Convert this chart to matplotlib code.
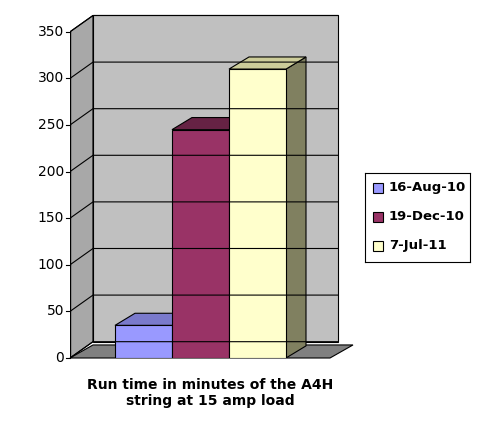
import matplotlib
matplotlib.use("Agg")
import matplotlib.pyplot as plt
from matplotlib.patches import Polygon, Rectangle

categories = ["16-Aug-10", "19-Dec-10", "7-Jul-11"]
values = [35, 245, 310]
colors = ["#9999ff", "#993366", "#ffffcc"]
tops = ["#7a7acc", "#662244", "#cccc99"]
sides = ["#6666aa", "#4d1a33", "#808060"]
yticks = [0, 50, 100, 150, 200, 250, 300, 350]

fig = plt.figure(figsize=(4.93, 4.25), dpi=100)
ax = fig.add_axes([70/493, (425-358)/425, 290/493, 345/425])
ymax = 345/0.932
ax.set_xlim(0, 290); ax.set_ylim(0, ymax)
ax.axis("off")
DX, DY = 23, 17.5
WALLR = 268
FD = 14

ax.add_patch(Polygon([(0, 0), (DX, DY), (WALLR, DY), (WALLR, 350+DY), (DX, 350+DY), (0, 350)],
                     closed=True, fc="#c0c0c0", ec="none"))
ax.add_patch(Polygon([(0, 0), (DX, DY), (DX, 350+DY), (0, 350)], closed=True,
                     fc="#a8a8a8", ec="black", lw=0.8))
ax.add_patch(Rectangle((DX, DY), WALLR-DX, 350, fc="#c0c0c0", ec="black", lw=0.8))
for t in yticks:
    ax.plot([0, DX, WALLR], [t, t+DY, t+DY], color="black", lw=0.8)
    ax.plot([-4, 0], [t, t], color="black", lw=0.8, clip_on=False)
    ax.text(-6, t, str(t), ha="right", va="center", fontsize=10, clip_on=False)
# floor
ax.add_patch(Polygon([(0, 0), (260, 0), (260+DX, FD), (DX, FD)], closed=True,
                     fc="#808080", ec="black", lw=0.8, clip_on=False))
ax.plot([0, 0], [0, 350], color="black", lw=1)

x0, w = 45, 57
bdx, bdy = 20, 13
for i, v in enumerate(values):
    x = x0 + i*w
    ax.add_patch(Polygon([(x+w, 0), (x+w+bdx, bdy), (x+w+bdx, v+bdy), (x+w, v)], closed=True,
                         fc=sides[i], ec="black", lw=0.8))
    ax.add_patch(Polygon([(x, v), (x+w, v), (x+w+bdx, v+bdy), (x+bdx, v+bdy)], closed=True,
                         fc=tops[i], ec="black", lw=0.8))
    ax.add_patch(Rectangle((x, 0), w, v, fc=colors[i], ec="black", lw=0.8))

fig.text(210/493, 1-393/425, "Run time in minutes of the A4H\nstring at 15 amp load",
         ha="center", va="center", fontsize=10, fontweight="bold")

lax = fig.add_axes([365/493, (425-262)/425, 105/493, 89/425])
lax.set_xlim(0, 105); lax.set_ylim(89, 0)
lax.set_xticks([]); lax.set_yticks([])
for s in lax.spines.values():
    s.set_linewidth(0.8)
for i, c in enumerate(categories):
    y = 15 + i*29
    lax.add_patch(Rectangle((8, y-5), 10, 10, fc=colors[i], ec="black", lw=0.8))
    lax.text(24, y, c, va="center", fontsize=9.5, fontweight="bold")

fig.savefig("out.png", dpi=100)
